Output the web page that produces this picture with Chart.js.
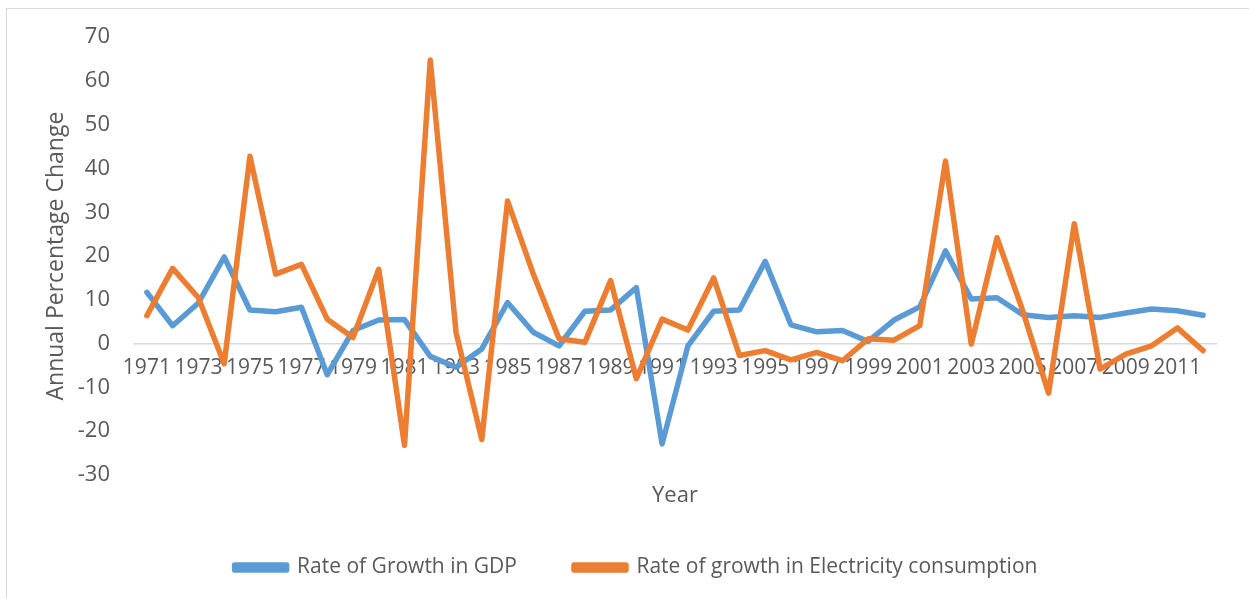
<!DOCTYPE html>
<html>
<head>
<meta charset="utf-8">
<script src="https://cdn.jsdelivr.net/npm/chart.js@4/dist/chart.umd.min.js"></script>
<style>
  html, body { margin: 0; padding: 0; background: #fff; }
  #wrap { width: 1249px; height: 598px; position: relative; }
</style>
</head>
<body>
<div id="wrap"><canvas id="growthChart"></canvas></div>
<script>
// Years 1971 - 2012
const years = ['1971','1972','1973','1974','1975','1976','1977','1978','1979','1980',
  '1981','1982','1983','1984','1985','1986','1987','1988','1989','1990',
  '1991','1992','1993','1994','1995','1996','1997','1998','1999','2000',
  '2001','2002','2003','2004','2005','2006','2007','2008','2009','2010',
  '2011','2012'];

const gdpGrowth = [11.7, 4.1, 9.3, 19.8, 7.7, 7.3, 8.3, -7.1, 3.0, 5.4,
  5.5, -2.9, -5.4, -1.2, 9.4, 2.6, -0.5, 7.4, 7.7, 12.8,
  -22.9, -0.5, 7.4, 7.7, 18.8, 4.3, 2.7, 3.0, 0.5, 5.4,
  8.4, 21.2, 10.2, 10.5, 6.6, 6.0, 6.4, 6.0, 7.0, 7.9,
  7.5, 6.5];

const electricityGrowth = [6.4, 17.2, 10.5, -4.6, 42.8, 15.9, 18.1, 5.6, 1.4, 17.0,
  -23.2, 64.8, 2.6, -21.9, 32.6, 15.9, 1.1, 0.3, 14.4, -8.0,
  5.6, 3.1, 15.0, -2.7, -1.6, -3.7, -2.0, -3.9, 1.1, 0.8,
  4.1, 41.7, -0.1, 24.2, 7.5, -11.3, 27.4, -5.8, -2.4, -0.5,
  3.6, -1.6];

const yMin = -30, yMax = 70, yStep = 10;

const textColor = '#595959';
const fontFamily = '"Open Sans", "DejaVu Sans", sans-serif';

// light frame around the chart, like the Excel chart border
const framePlugin = {
  id: 'frame',
  beforeDraw(chart) {
    const ctx = chart.ctx;
    ctx.save();
    ctx.strokeStyle = '#d9d9d9';
    ctx.lineWidth = 1;
    ctx.strokeRect(6.5, 8.5, 1400, 700);
    ctx.restore();
  }
};

const ctx = document.getElementById('growthChart').getContext('2d');
const growthChart = new Chart(ctx, {
  type: 'line',
  data: {
    labels: years,
    datasets: [{
      label: 'Rate of Growth in GDP',
      data: gdpGrowth,
      borderColor: '#5b9bd5',
      backgroundColor: '#5b9bd5',
      borderWidth: 5.5,
      pointRadius: 0,
      borderCapStyle: 'round',
      borderJoinStyle: 'round',
      order: 1
    }, {
      label: 'Rate of growth in Electricity consumption',
      data: electricityGrowth,
      borderColor: '#ed7d31',
      backgroundColor: '#ed7d31',
      borderWidth: 5.5,
      pointRadius: 0,
      borderCapStyle: 'round',
      borderJoinStyle: 'round',
      order: 0
    }]
  },
  options: {
    responsive: true,
    maintainAspectRatio: false,
    animation: false,
    layout: { padding: { top: 36, right: 33, bottom: 10, left: 56 } },
    plugins: {
      tooltip: { enabled: false },
      legend: {
        position: 'bottom',
        labels: {
          boxWidth: 52,
          boxHeight: 5,
          padding: 57,
          color: textColor,
          font: { family: fontFamily, size: 21 },
          sort: (a, b) => a.datasetIndex - b.datasetIndex
        }
      }
    },
    scales: {
      x: {
        type: 'category',
        position: { y: 0 },
        offset: true,
        grid: { display: false, drawTicks: false },
        border: { display: true, color: '#d9d9d9', width: 1.5 },
        ticks: {
          autoSkip: false,
          maxRotation: 0,
          minRotation: 0,
          padding: 12,
          color: textColor,
          font: { family: fontFamily, size: 21 },
          callback: (v, i) => (i % 2 === 0 ? years[i] : '')
        }
      },
      x2: {
        type: 'category',
        axis: 'x',
        position: 'bottom',
        offset: true,
        grid: { display: false, drawTicks: false },
        border: { display: false },
        ticks: { display: false },
        title: {
          display: true,
          text: 'Year',
          color: textColor,
          padding: { top: 0, bottom: -9 },
          font: { family: fontFamily, size: 22 }
        },
        afterFit(scale) { scale.height = 25; }
      },
      y: {
        min: yMin,
        max: yMax,
        grid: { display: false, drawTicks: false },
        border: { display: false },
        ticks: {
          stepSize: yStep,
          padding: 24,
          color: textColor,
          font: { family: fontFamily, size: 22 }
        },
        title: {
          display: true,
          text: 'Annual Percentage Change',
          color: textColor,
          padding: { top: -13, bottom: 0 },
          font: { family: fontFamily, size: 23 }
        },
        afterFit(scale) { scale.width = 78; }
      }
    }
  },
  plugins: [framePlugin]
});
</script>
</body>
</html>
